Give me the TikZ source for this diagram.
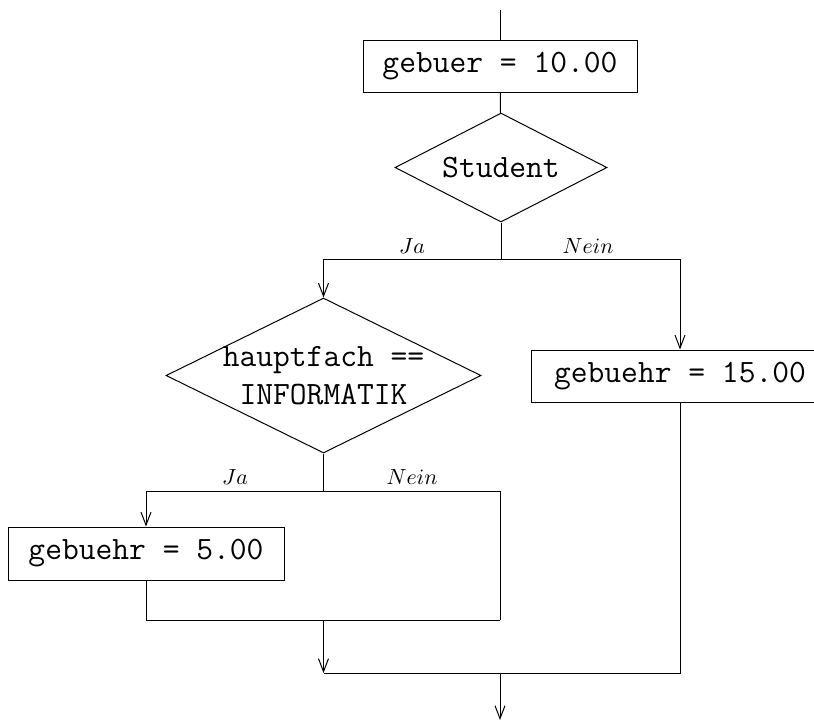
\documentclass[tikz,border=0pt]{standalone}
\usetikzlibrary{shapes.geometric,arrows.meta}
\begin{document}
\begin{tikzpicture}[x=0.5pt,y=-0.5pt,line width=0.5pt,
  codefont/.style={font=\ttfamily\fontsize{16.3}{19}\selectfont},
  procbox/.style={draw,rectangle,inner sep=0pt,codefont},
  decision/.style={draw,diamond,inner sep=0pt,codefont},
  branchlbl/.style={font=\fontsize{11}{13}\selectfont,inner sep=0pt},
  flow/.style={-{Straight Barb[length=6.5pt,width=5pt,line width=0.5pt]}},
  conn/.style={}]
\useasboundingbox (0,0) rectangle (814,725);
\begin{scope}
\clip (0,0) rectangle (814,725);
\coordinate (start) at (500,10);
\node[procbox,minimum width=137pt,minimum height=26pt] (b1) at (500,66) {gebuer = 10.00};
\node[decision,minimum width=106pt,minimum height=54.5pt,label={[codefont]center:Student}] (d1) at (501,167.5) {};
\coordinate (j1) at (501,259);
\node[decision,minimum width=157.5pt,minimum height=77.5pt,label={[codefont,align=center]center:hauptfach ==\\INFORMATIK}] (d2) at (323.5,375.5) {};
\node[procbox,minimum width=149pt,minimum height=26pt] (b2) at (680,376) {gebuehr = 15.00};
\coordinate (j2) at (323.5,491);
\node[procbox,minimum width=138pt,minimum height=26.5pt] (b3) at (146,553.5) {gebuehr = 5.00};
\coordinate (r2) at (500,620);
\coordinate (m2) at (323.5,620);
\coordinate (m1) at (323.5,673);
\coordinate (r1) at (500,673);
\coordinate (finish) at (500,720);

\draw[conn] (start) -- (b1);
\draw[conn] (b1) -- (d1);
\draw[conn] (d1.south) -- (j1);
\draw[flow] (j1) -| (d2.north);
\draw[flow] (j1) -| (b2.north);
\node[branchlbl] (l1) at (412,246) {$Ja$};
\node[branchlbl] (l2) at (588,246) {$Nein$};
\draw[conn] (d2.south) -- (j2);
\draw[flow] (j2) -| (b3.north);
\draw[conn] (j2) -| (r2);
\node[branchlbl] (l3) at (235,477) {$Ja$};
\node[branchlbl] (l4) at (412,477) {$Nein$};
\draw[conn] (b3.south) |- (r2);
\draw[flow] (m2) -- (m1);
\draw[conn] (b2.south) |- (m1);
\draw[flow] (r1) -- (finish);
\end{scope}
\end{tikzpicture}
\end{document}
